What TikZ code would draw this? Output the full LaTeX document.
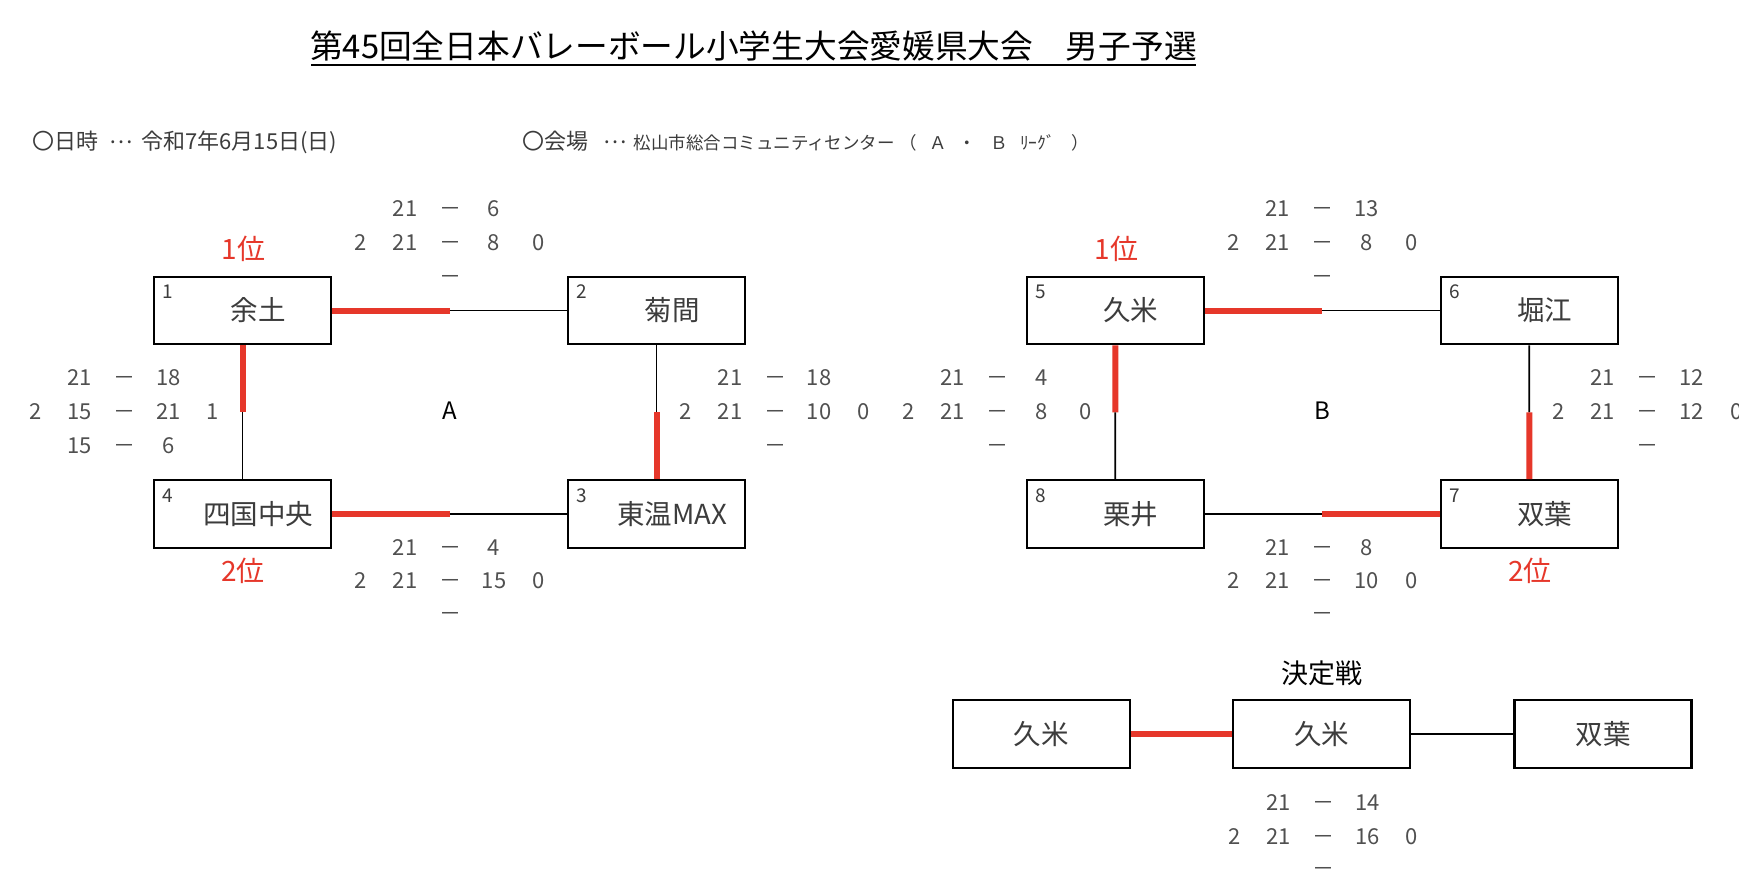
\documentclass[tikz,border=0pt]{standalone}
\usepackage{fontspec}
\setmainfont{Noto Sans CJK JP}
\usetikzlibrary{calc}
\definecolor{winred}{RGB}{230,55,42}
\definecolor{txtgray}{RGB}{60,60,60}
\definecolor{scgray}{RGB}{80,80,80}
\tikzset{
  every node/.style={inner sep=0pt, text depth=0pt},
  teambox/.style={draw=black, line width=2.2pt, fill=white, minimum width=177pt, minimum height=67.5pt,
    font=\fontsize{27.5pt}{30pt}\selectfont, text=txtgray, text height=20.9pt},
  numlab/.style={font=\fontsize{19pt}{21pt}\selectfont, text=txtgray, text height=14.4pt},
  sc/.style={font=\fontsize{22pt}{24pt}\selectfont, text=scgray, text height=16.7pt},
  rank/.style={font=\fontsize{28pt}{30pt}\selectfont, text=winred, text height=21.3pt},
  grp/.style={font=\fontsize{24pt}{26pt}\selectfont, text=black, text height=18.2pt},
  titletext/.style={font=\fontsize{32.7pt}{35pt}\selectfont, text=black, text height=24.8pt},
  infotext/.style={font=\fontsize{22pt}{24pt}\selectfont, text=txtgray, text height=16.7pt},
  kettei/.style={font=\fontsize{27pt}{30pt}\selectfont, text=black, text height=20.5pt},
  winline/.style={draw=winred, line width=6pt},
  loseline/.style={draw=black, line width=1.8pt},
}
\newcommand\scAB[5]{%
  \node[sc] (#1a) at (#2-45,#3) {#4};
  \node[sc] (#1d) at (#2,#3) {－};
  \node[sc] (#1b) at (#2+44,#3) {#5};}
\newcommand\scPABS[7]{%
  \node[sc] (#1p) at (#2-89,#3) {#4};
  \scAB{#1}{#2}{#3}{#5}{#6}
  \node[sc] (#1s) at (#2+88.5,#3) {#7};}
\newcommand\scD[3]{\node[sc] (#1d) at (#2,#3) {－};}
\newcommand\midell{\raisebox{6pt}{…}}
\begin{document}
\begin{tikzpicture}[x=1pt,y=-1pt]
\clip (0,0) rectangle (1739,894);
\fill[white] (0,0) rectangle (1739,894);

% title and info
\node[titletext] (title) at (753.5,45.8) {第45回全日本バレーボール小学生大会愛媛県大会　男子予選};
\draw[line width=2pt] ([yshift=-7pt,xshift=1pt]title.south west) -- ([yshift=-7pt,xshift=-1pt]title.south east);
\node[infotext, anchor=west] (date) at (32,141.3) {〇日時\hspace{11pt}\midell\hspace{9pt}令和7年6月15日(日)};
\node[infotext, anchor=west] (venue) at (522,141.3) {〇会場\hspace{15pt}\midell\hspace{7pt}{\fontsize{17.5pt}{18pt}\selectfont 松山市総合コミュニティセンター\hspace{5pt}（\hspace{11.75pt}Ａ\hspace{12pt}・\hspace{14pt}Ｂ\hspace{12.5pt}ﾘｰｸﾞ\hspace{16pt}）}};

% group A boxes
\node[teambox] (t1) at (242.5,310.5) {\hspace*{31pt}余土};
\node[teambox] (t2) at (656.5,310.5) {\hspace*{31pt}菊間};
\node[teambox] (t4) at (242.5,514) {\hspace*{31pt}四国中央};
\node[teambox] (t3) at (656.5,514) {\hspace*{31pt}東温MAX};
\node[numlab] (t1n) at ([xshift=15pt,yshift=-16pt]t1.north west) {1};
\node[numlab] (t2n) at ([xshift=15pt,yshift=-16pt]t2.north west) {2};
\node[numlab] (t4n) at ([xshift=15pt,yshift=-16pt]t4.north west) {4};
\node[numlab] (t3n) at ([xshift=15pt,yshift=-16pt]t3.north west) {3};
\node[rank] (r1) at (243.5,249) {1位};
\node[rank] (r4) at (243,571) {2位};
\node[grp] (gA) at (450,410) {A};

% group B boxes
\node[teambox] (t5) at (1115.3,310.5) {\hspace*{31pt}久米};
\node[teambox] (t6) at (1529.3,310.5) {\hspace*{31pt}堀江};
\node[teambox] (t8) at (1115.3,514) {\hspace*{31pt}栗井};
\node[teambox] (t7) at (1529.3,514) {\hspace*{31pt}双葉};
\node[numlab] (t5n) at ([xshift=15pt,yshift=-16pt]t5.north west) {5};
\node[numlab] (t6n) at ([xshift=15pt,yshift=-16pt]t6.north west) {6};
\node[numlab] (t8n) at ([xshift=15pt,yshift=-16pt]t8.north west) {8};
\node[numlab] (t7n) at ([xshift=15pt,yshift=-16pt]t7.north west) {7};
\node[rank] (r5) at (1116.5,249) {1位};
\node[rank] (r7) at (1530,571) {2位};
\node[grp] (gB) at (1322.8,410) {B};

% connectors group A
\coordinate (m12) at ($(t1.east)!0.5!(t2.west)$);
\coordinate (m14) at ($(t1.south)!0.5!(t4.north)$);
\coordinate (m23) at ($(t2.south)!0.5!(t3.north)$);
\coordinate (m43) at ($(t4.east)!0.5!(t3.west)$);
\draw[winline] (t1.east) -- (m12);
\draw[loseline] (m12) -- (t2.west);
\draw[winline] (t1.south) -- (m14);
\draw[loseline] (m14) -- (t4.north);
\draw[loseline] (t2.south) -- (m23);
\draw[winline] (m23) -- (t3.north);
\draw[winline] (t4.east) -- (m43);
\draw[loseline] (m43) -- (t3.west);

% connectors group B
\coordinate (m56) at ($(t5.east)!0.5!(t6.west)$);
\coordinate (m58) at ($(t5.south)!0.5!(t8.north)$);
\coordinate (m67) at ($(t6.south)!0.5!(t7.north)$);
\coordinate (m87) at ($(t8.east)!0.5!(t7.west)$);
\draw[winline] (t5.east) -- (m56);
\draw[loseline] (m56) -- (t6.west);
\draw[winline] (t5.south) -- (m58);
\draw[loseline] (m58) -- (t8.north);
\draw[loseline] (t6.south) -- (m67);
\draw[winline] (m67) -- (t7.north);
\draw[loseline] (t8.east) -- (m87);
\draw[winline] (m87) -- (t7.west);

% scores group A
\scAB{aTa}{450}{208.3}{21}{6}
\scPABS{aTb}{450}{242.3}{2}{21}{8}{0}
\scD{aTc}{450}{275.7}
\scAB{aLa}{124.6}{376.7}{21}{18}
\scPABS{aLb}{124.6}{410.7}{2}{15}{21}{1}
\scAB{aLc}{124.6}{445}{15}{6}
\scAB{aRa}{775}{376.7}{21}{18}
\scPABS{aRb}{775}{410.7}{2}{21}{10}{0}
\scD{aRc}{775}{445}
\scAB{aBa}{450}{546.7}{21}{4}
\scPABS{aBb}{450}{580}{2}{21}{15}{0}
\scD{aBc}{450}{613.3}

% scores group B
\scAB{bTa}{1322.8}{208.3}{21}{13}
\scPABS{bTb}{1322.8}{242.3}{2}{21}{8}{0}
\scD{bTc}{1322.8}{275.7}
\scAB{bLa}{997.4}{376.7}{21}{4}
\scPABS{bLb}{997.4}{410.7}{2}{21}{8}{0}
\scD{bLc}{997.4}{445}
\scAB{bRa}{1647.8}{376.7}{21}{12}
\scPABS{bRb}{1647.8}{410.7}{2}{21}{12}{0}
\scD{bRc}{1647.8}{445}
\scAB{bBa}{1322.8}{546.7}{21}{8}
\scPABS{bBb}{1322.8}{580}{2}{21}{10}{0}
\scD{bBc}{1322.8}{613.3}

% final
\node[kettei] (kt) at (1322.2,673.3) {決定戦};
\node[teambox, minimum height=67.7pt] (f1) at (1041.2,733.9) {久米};
\node[teambox, minimum height=67.7pt] (f2) at (1321.7,733.9) {久米};
\node[teambox, minimum height=67.7pt] (f3) at (1603,733.9) {双葉};
\draw[winline] (f1.east) -- (f2.west);
\draw[loseline] (f2.east) -- (f3.west);
\scAB{fa}{1323.2}{802.3}{21}{14}
\scPABS{fb}{1323.2}{836}{2}{21}{16}{0}
\scD{fc}{1323.2}{868.3}
\end{tikzpicture}
\end{document}
